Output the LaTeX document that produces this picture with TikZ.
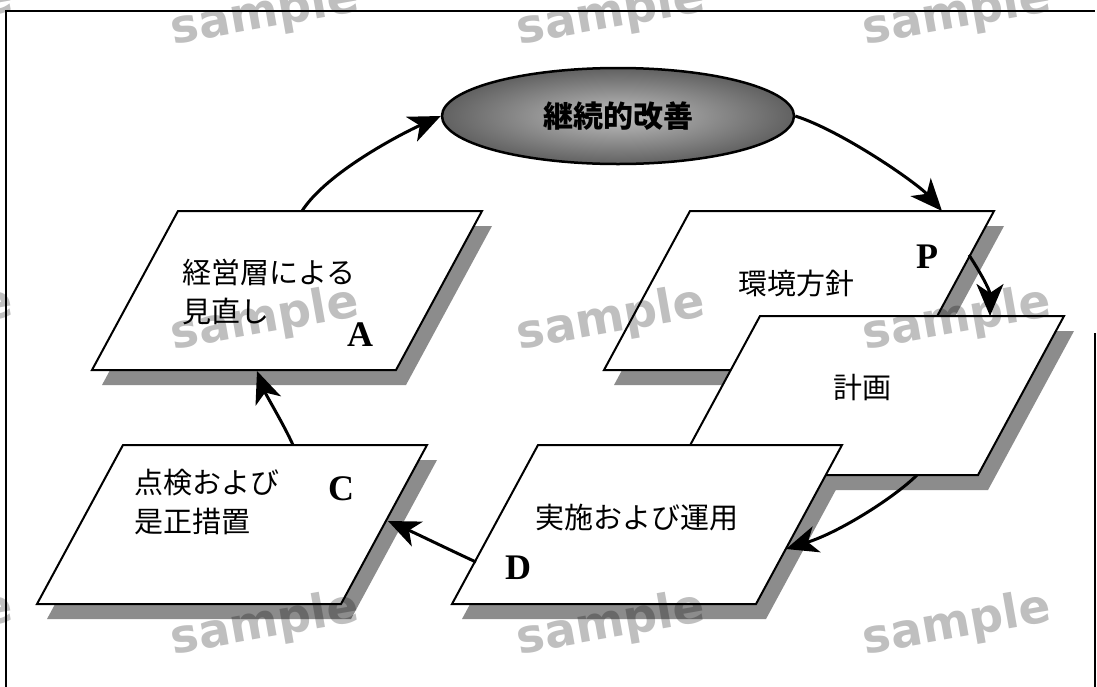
\documentclass[tikz,border=0pt]{standalone}
\usepackage{fontspec}
\setmainfont{Liberation Serif}
\newfontfamily\jp{Noto Sans CJK JP}
\newfontfamily\wmfont{DejaVu Sans}
\usetikzlibrary{arrows.meta,shapes.geometric,calc}

\tikzset{
 para/.style={draw=black, line width=2pt, fill=white, line join=miter},
 parashadow/.style={fill=black!45},
 flow/.style={line width=3pt, -{Stealth[length=32pt,width=27pt,inset=9pt]}},
 jptext/.style={font=\jp\fontsize{29}{39}\selectfont, inner sep=0pt},
 letter/.style={font=\fontsize{36}{36}\selectfont\bfseries, inner sep=0pt},
 wm/.style={font=\wmfont\bfseries\fontsize{47}{47}\selectfont, text=black, text opacity=0.25, rotate=10, inner sep=0pt}
}

\newcommand\pshadow[2]{\fill[parashadow] ({#1+10},{#2+15}) -- ++(304,0) -- ++(-86,159) -- ++(-304,0) -- cycle;}
\newcommand\pbody[3]{\draw[para] (#2,#3) coordinate (#1-tl) -- ++(304,0) coordinate (#1-tr) -- ++(-86,159) coordinate (#1-br) -- ++(-304,0) coordinate (#1-bl) -- cycle;}

\begin{document}
\begin{tikzpicture}[x=1pt,y=-1pt]
\useasboundingbox (0,0) rectangle (1097,686);
\clip (0,0) rectangle (1097,686);
\fill[white] (0,0) rectangle (1097,686);
% frame
\draw[line width=2pt] (6,690) -- (6,11) -- (1095,11);
\draw[line width=1.5pt] (1095,333) -- (1095,690);
% shadows
\pshadow{178}{211}
\pshadow{123}{445}
\pshadow{690}{211}
\pshadow{760}{316}
\pshadow{538}{445}
% bodies
\pbody{A}{178}{211}
\pbody{C}{123}{445}
\pbody{P}{690}{211}
\pbody{K}{760}{316}
\pbody{D}{538}{445}
% ellipse
\node[ellipse, draw, line width=2.5pt, minimum width=352pt, minimum height=96pt, inner sep=0pt,
      inner color=black!25, outer color=black!62, font=\jp\bfseries\fontsize{30}{30}\selectfont] (kaizen) at (618,116) {継続的改善};
% texts
\node[jptext, align=left, anchor=west] (tA) at (182,292) {経営層による\\見直し};
\node[letter] (lA) at (360,335) {A};
\node[jptext, align=left, anchor=west] (tC) at (134,502) {点検および\\是正措置};
\node[letter] (lC) at (341,489) {C};
\node[jptext] (tP) at (796,283) {環境方針};
\node[letter] (lP) at (927,257) {P};
\node[jptext] (tK) at (862,388) {計画};
\node[jptext] (tD) at (637,518) {実施および運用};
\node[letter] (lD) at (518,568) {D};
% connector ends
\coordinate (a1) at (302,211);
\coordinate (p1) at (942,211);
\coordinate (p2) at (969,255);
\coordinate (k1) at (990,316);
\coordinate (k2) at (917,475);
\coordinate (d1) at (786,549);
\coordinate (d2) at (476,562);
\coordinate (c1) at (388,521);
\coordinate (c2) at (293,445);
\coordinate (a2) at (257,371);
% arrows
\draw[flow] (a1) .. controls (327,172) and (403,133) .. (kaizen.west);
\draw[flow] (kaizen.east) .. controls (842,131) and (917,183) .. (p1);
\draw[flow] (p2) .. controls (980,272) and (990,290) .. (k1);
\draw[flow] (k2) .. controls (895,497) and (840,532) .. (d1);
\draw[flow] (d2) .. controls (450,550) and (415,533) .. (c1);
\draw[flow] (c2) .. controls (284,425) and (266,395) .. (a2);
% watermarks
\foreach \wx in {-81,265,611,957}{
  \foreach \wy in {15,320,625}{
    \node[wm] at (\wx,\wy) {sample};
  }
}
\end{tikzpicture}
\end{document}
